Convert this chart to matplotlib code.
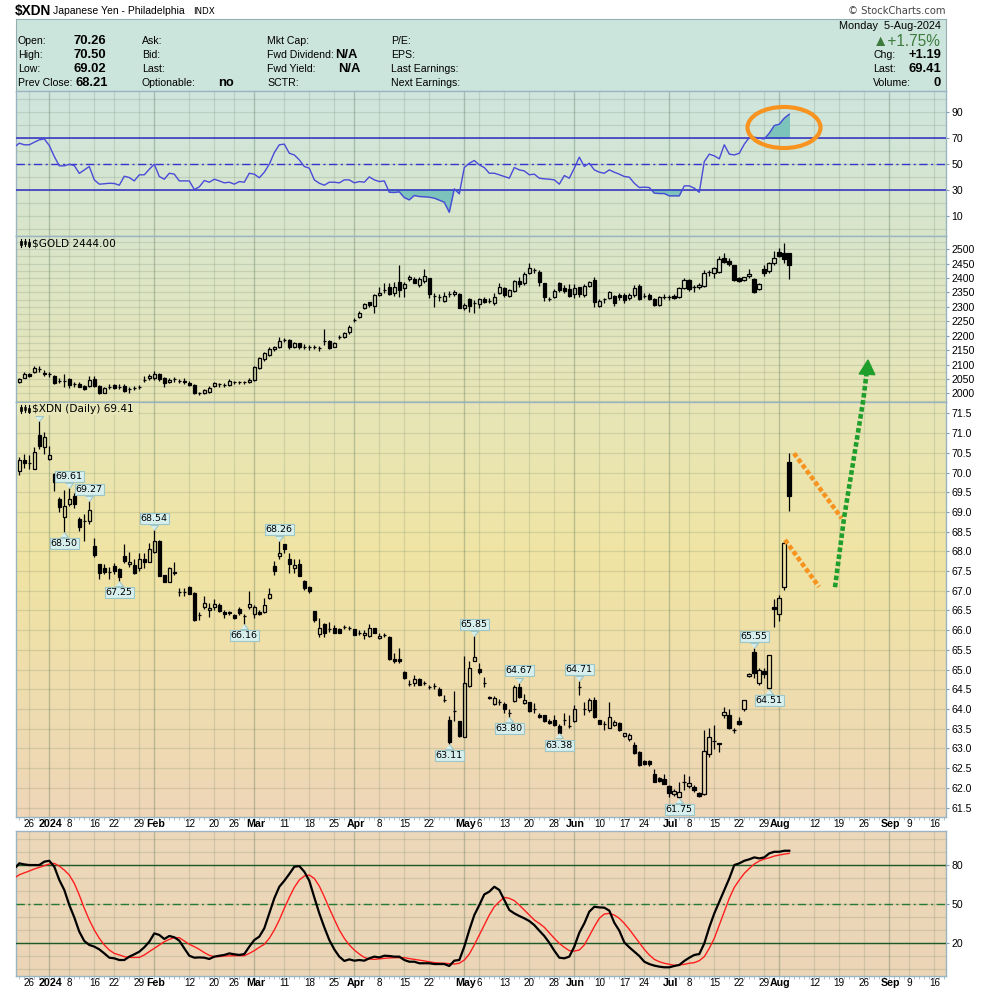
import numpy as np
import pandas as pd
import matplotlib
matplotlib.use('Agg')
import matplotlib.pyplot as plt
from matplotlib.colors import LinearSegmentedColormap
from matplotlib.patches import Ellipse, Polygon, Rectangle
import matplotlib.transforms as mtransforms

plt.rcParams['font.family'] = ['Liberation Sans', 'DejaVu Sans']

# ---------------- data ----------------
start_date = '2023-12-21'
axis_end_date = '2024-09-27'
holidays = ['2023-12-25', '2024-01-01', '2024-01-15', '2024-02-19', '2024-03-29',
            '2024-05-27', '2024-06-19', '2024-07-04', '2024-09-02']

xdn_open = [70.04,70.33,70.25,70.09,70.95,70.66,70.35,69.96,69.33,68.88,
            69.19,69.41,68.82,68.78,68.77,68.14,67.67,67.58,67.48,67.64,
            67.54,67.88,67.67,67.65,67.57,67.80,67.74,67.99,68.26,67.40,
            67.23,67.47,66.97,66.98,67.10,66.95,66.38,66.59,66.51,66.58,
            66.64,66.47,66.47,66.38,66.55,66.36,66.60,66.41,66.47,66.47,
            66.81,67.64,67.89,68.18,67.80,67.57,67.68,67.25,67.09,66.48,
            65.90,66.15,66.02,66.06,66.03,66.09,66.06,66.02,65.94,65.88,
            65.86,66.05,65.79,65.88,65.83,65.28,65.27,64.95,64.63,64.65,
            64.75,64.65,64.56,64.58,64.52,64.24,63.73,63.95,63.69,63.30,
            64.58,65.23,65.01,64.67,64.31,64.12,64.18,64.12,63.89,64.20,
            64.55,64.14,64.17,64.01,63.84,63.84,63.70,63.73,63.57,63.73,
            63.57,63.70,64.56,64.01,63.97,64.24,63.72,63.63,63.53,63.59,
            63.65,63.31,63.23,63.08,62.91,62.69,62.68,62.35,62.24,62.22,
            62.04,61.84,61.76,62.15,62.05,62.03,61.88,61.84,62.87,63.20,
            63.14,63.86,63.86,63.48,63.70,64.01,64.84,65.44,64.65,64.97,
            64.53,66.58,66.40,67.09,70.26]
xdn_high = [70.40,70.46,70.44,70.64,71.32,71.04,70.67,70.00,69.39,69.56,
            69.61,69.47,68.88,68.95,69.27,68.34,67.69,67.69,67.61,67.71,
            67.57,68.19,67.99,67.80,67.95,67.95,68.22,68.54,68.29,67.40,
            67.61,67.72,67.07,67.06,67.12,66.97,66.47,66.87,66.68,66.78,
            66.68,66.51,66.49,66.41,66.60,66.41,66.99,66.64,66.51,66.81,
            67.08,67.75,68.26,68.18,67.97,67.80,67.80,67.27,67.12,66.48,
            66.32,66.19,66.21,66.13,66.06,66.13,66.10,66.04,66.00,66.00,
            66.15,66.06,65.92,65.93,65.85,65.41,65.54,64.97,64.73,64.86,
            64.78,64.72,64.61,64.66,64.55,64.35,63.82,64.45,63.69,65.34,
            65.22,65.85,65.16,64.80,64.34,64.33,64.25,64.18,63.99,64.61,
            64.67,64.37,64.18,64.14,63.89,63.86,63.74,63.84,63.63,63.90,
            63.84,64.10,64.71,64.18,64.28,64.31,63.73,63.70,64.18,63.73,
            63.68,63.40,63.40,63.17,62.94,62.71,62.70,62.47,62.28,62.35,
            62.07,61.98,62.15,62.35,62.30,62.07,61.90,63.48,63.51,63.59,
            63.15,64.04,63.99,63.51,63.80,64.24,64.92,65.55,65.03,65.03,
            65.38,66.80,66.89,68.23,70.50]
xdn_low = [69.94,70.11,70.09,70.08,70.61,70.46,70.33,69.54,69.00,68.50,
           69.15,69.11,68.52,68.27,68.69,67.86,67.30,67.42,67.30,67.42,
           67.25,67.71,67.61,67.42,67.51,67.57,67.72,67.95,67.38,67.23,
           67.23,67.40,66.87,66.87,66.92,66.24,66.26,66.53,66.34,66.51,
           66.47,66.32,66.39,66.28,66.39,66.16,66.55,66.32,66.39,66.44,
           66.78,67.40,67.80,67.95,67.46,67.46,67.38,67.03,66.95,66.21,
           65.82,65.83,65.96,65.92,65.92,66.02,66.00,65.88,65.89,65.77,
           65.83,65.93,65.77,65.82,65.24,65.18,65.18,64.75,64.58,64.58,
           64.61,64.61,64.52,64.52,64.33,64.18,63.11,63.70,63.30,63.28,
           64.55,65.22,64.89,64.56,64.25,64.10,64.10,63.89,63.80,64.17,
           64.29,64.12,63.93,63.89,63.76,63.68,63.62,63.57,63.38,63.59,
           63.53,63.68,64.35,63.84,63.93,63.76,63.62,63.48,63.51,63.57,
           63.45,63.29,63.19,62.87,62.56,62.58,62.56,62.14,62.15,62.09,
           61.77,61.79,61.75,61.94,62.00,61.90,61.77,61.82,62.79,62.98,
           62.92,63.76,63.49,63.38,63.59,63.95,64.80,64.78,64.61,64.78,
           64.51,66.09,66.24,67.02,69.02]
xdn_close = [70.33,70.23,70.25,70.51,70.68,70.89,70.44,69.77,69.13,69.15,
             69.33,69.19,68.63,68.78,69.05,67.92,67.46,67.47,67.48,67.50,
             67.36,67.75,67.72,67.46,67.80,67.72,68.05,68.27,67.38,67.23,
             67.57,67.46,66.97,66.97,66.93,66.26,66.38,66.68,66.57,66.66,
             66.49,66.41,66.43,66.32,66.43,66.36,66.66,66.60,66.41,66.64,
             66.92,67.51,67.97,68.06,67.69,67.65,67.38,67.06,67.00,66.27,
             66.06,65.94,66.02,65.94,65.94,66.09,66.06,65.89,65.94,65.93,
             66.05,65.94,65.86,65.88,65.26,65.22,65.22,64.79,64.63,64.75,
             64.62,64.65,64.56,64.58,64.35,64.24,63.17,63.95,63.32,64.67,
             65.03,65.31,64.95,64.67,64.27,64.28,64.18,63.99,63.89,64.55,
             64.31,64.23,63.95,64.01,63.79,63.70,63.65,63.59,63.40,63.73,
             63.57,63.99,64.56,64.01,64.24,63.79,63.63,63.63,63.79,63.68,
             63.48,63.38,63.34,62.89,62.58,62.60,62.60,62.15,62.18,62.11,
             61.88,61.92,61.90,62.15,62.13,61.94,61.80,62.93,63.30,63.20,
             63.11,63.93,63.51,63.48,63.62,64.24,64.90,64.92,65.00,64.90,
             65.38,66.55,66.81,68.21,69.41]

gold_open = [2038,2055,2067,2075,2083,2072,2067,2061,2044,2044,
             2050,2031,2031,2025,2026,2050,2025,2002,2023,2029,
             2023,2026,2014,2020,2023,2046,2052,2054,2066,2054,
             2038,2050,2044,2044,2037,2029,2000,2000,2006,2025,
             2031,2029,2029,2038,2038,2038,2038,2046,2087,2118,
             2133,2153,2162,2185,2185,2162,2173,2162,2160,2160,
             2156,2183,2182,2162,2194,2194,2212,2254,2266,2297,
             2316,2304,2341,2359,2368,2347,2385,2364,2396,2396,
             2376,2390,2399,2338,2336,2322,2344,2344,2345,2295,
             2326,2312,2310,2327,2322,2312,2349,2364,2338,2356,
             2391,2382,2419,2428,2420,2382,2327,2333,2382,2364,
             2362,2344,2368,2341,2373,2393,2304,2326,2330,2338,
             2341,2341,2330,2341,2372,2338,2341,2327,2307,2335,
             2333,2338,2335,2364,2393,2368,2368,2372,2420,2419,
             2422,2469,2460,2445,2399,2393,2407,2396,2361,2430,
             2425,2451,2489,2488,2486]
gold_high = [2054,2075,2072,2095,2095,2081,2075,2063,2052,2067,
             2052,2040,2040,2029,2061,2061,2029,2023,2032,2031,
             2031,2031,2023,2026,2029,2061,2067,2078,2072,2058,
             2052,2058,2050,2052,2043,2031,2006,2014,2025,2040,
             2037,2035,2050,2044,2044,2044,2054,2095,2127,2145,
             2160,2164,2197,2193,2187,2179,2176,2170,2168,2168,
             2164,2222,2185,2177,2202,2214,2237,2260,2286,2315,
             2318,2345,2370,2382,2382,2388,2445,2388,2411,2405,
             2403,2430,2399,2347,2345,2353,2356,2359,2347,2312,
             2330,2324,2330,2335,2330,2349,2382,2370,2362,2393,
             2403,2422,2454,2434,2428,2384,2335,2361,2388,2376,
             2379,2379,2370,2379,2391,2403,2326,2332,2355,2341,
             2347,2347,2347,2376,2378,2347,2347,2330,2338,2344,
             2341,2344,2370,2399,2396,2376,2382,2428,2428,2440,
             2477,2488,2469,2445,2405,2405,2430,2399,2382,2445,
             2457,2494,2503,2521,2488]
gold_low = [2035,2052,2058,2072,2075,2061,2058,2032,2037,2023,
            2017,2023,2021,2011,2023,2023,1997,2000,2014,2015,
            2014,2006,2000,2011,2015,2040,2048,2048,2044,2023,
            2035,2040,2037,2032,2025,1997,1994,1997,2000,2021,
            2023,2023,2026,2032,2032,2031,2035,2044,2083,2113,
            2129,2148,2158,2179,2153,2156,2153,2154,2151,2153,
            2148,2168,2153,2160,2187,2191,2206,2246,2260,2292,
            2301,2280,2338,2347,2341,2338,2336,2336,2391,2382,
            2370,2384,2332,2301,2322,2318,2336,2338,2295,2289,
            2283,2280,2295,2312,2315,2307,2345,2335,2335,2353,
            2370,2376,2414,2417,2373,2322,2322,2330,2353,2347,
            2335,2330,2335,2335,2368,2298,2301,2312,2326,2304,
            2324,2315,2324,2335,2324,2330,2324,2303,2303,2327,
            2324,2327,2330,2361,2356,2353,2361,2368,2408,2399,
            2419,2451,2442,2391,2388,2391,2399,2347,2359,2407,
            2419,2445,2472,2451,2397]
gold_close = [2050,2067,2061,2087,2083,2066,2067,2037,2044,2044,
              2029,2031,2023,2014,2046,2025,2000,2017,2023,2017,
              2023,2009,2014,2020,2023,2046,2061,2066,2050,2037,
              2046,2050,2044,2038,2029,2002,2000,2011,2020,2035,
              2031,2029,2044,2038,2038,2038,2048,2090,2121,2139,
              2153,2162,2182,2185,2162,2176,2162,2162,2160,2160,
              2156,2183,2156,2173,2194,2208,2231,2254,2278,2310,
              2307,2341,2349,2359,2344,2368,2359,2379,2403,2384,
              2396,2408,2344,2338,2336,2338,2344,2353,2297,2307,
              2303,2312,2326,2318,2322,2335,2370,2341,2359,2391,
              2379,2414,2434,2428,2388,2333,2327,2355,2359,2356,
              2339,2364,2344,2373,2385,2318,2322,2326,2351,2312,
              2335,2324,2341,2364,2326,2338,2326,2307,2333,2335,
              2333,2330,2364,2393,2362,2368,2376,2419,2420,2434,
              2465,2455,2449,2393,2391,2403,2414,2351,2378,2419,
              2451,2469,2477,2465,2444]

rsi_x = [-0.6] + list(range(155))
rsi_val = [64.4, 66.2,65,65,67,68.8,69.5,64.4,56,48.8,48.8,
           50,49,43,45.7,48.3,38,34.7,35,35.4,35.2,
           33.9,40.8,39.8,37.2,41.9,41.9,46.2,50,40.6,38.5,
           43.1,42.4,37.2,37.2,37.2,30.6,32.6,37.5,36.2,38.5,
           37.2,35.7,36.2,34.7,36.7,36.2,43.1,42.4,39.6,43.9,
           50,59,65,65.5,58.5,57.2,53.4,48.3,47,38,
           35.4,33.9,36.2,36.2,35.7,38,38,35.7,36.7,36.2,
           40.3,38,36.7,37.2,28.5,28.3,28.8,24.4,22.6,26,
           25.2,25,24.7,23.9,22.4,20.8,13.1,31.1,27.3,47.5,
           50.8,52.9,49.5,47.5,43.1,43.1,41.9,40.6,39.3,47.5,
           45.7,44.9,41.9,42.4,39.3,38.8,38.5,38,34.7,41.3,
           39.3,47,55.5,48.3,50.8,45.7,43.9,43.1,45.7,43.9,
           42.4,40.6,40.1,35.4,32.1,32.4,32.1,27.8,27.5,27.5,
           25.7,25.7,25.7,33.4,33.4,31.6,28.5,52.1,57.8,56.5,
           54.2,65,57.8,57.2,58.5,65.5,70.6,70.8,70.1,69.5,
           73.9,79.8,80.8,85.5,88.5]

stoch_x = [-0.6] + list(range(155))
stoch_k = [78.7, 81.3,80.5,80,80,80,82.6,83.3,78.7,68.5,60.8,
           49.2,39.7,28.7,21.5,18.5,17.2,15.1,12,8.7,8.2,
           6.9,6.9,9.5,11.3,13.3,16.7,21,27.4,26.2,23.1,
           25.4,24.4,21.8,15.9,10.2,8.7,8.9,8.7,7.7,9.5,
           10.2,10.8,12,11.3,10.8,11.5,17.2,22.3,24.9,31.3,
           42.8,54.4,63.3,67.9,73.1,78.7,79.2,74.9,67.9,55.1,
           42.8,32.1,22.3,15.1,9.5,6.2,7.4,6.4,6.9,6.4,
           8.2,9.5,8.9,10.2,10,9.5,9.5,6.9,5.6,5.6,
           4.4,4.4,4.4,3.8,3.8,3.8,2.3,6.4,6.9,17.2,
           30,41.5,49.2,57.4,59.5,63.3,60.8,53.1,45.4,42.8,
           40.8,39,36.9,33.8,29.5,25.4,20.2,14.1,8.7,8.2,
           9.5,17.2,27.9,35.1,44.1,47.9,47.4,47.2,44.9,35.6,
           29.5,20.5,16.7,13.3,10,5.6,3.8,2.6,1.8,1.3,
           1.3,2.3,3.1,6.2,8.7,10.8,11.5,19.7,32.1,42.8,
           51.8,60.8,69.7,80,81.3,83.3,84.4,85.9,85.1,85.9,
           89,90.2,90.2,91,91]
stoch_d = [71, 72.5,74,75.4,77,78.2,79.5,80.8,81.3,79.2,76.1,
           72.3,65.9,56.9,46.7,37.7,30,23.6,18.5,14.6,12,
           10.8,9.5,8.9,8.9,8.9,10.8,13.3,15.9,18.5,21,
           22.8,24.1,24.1,21.5,19,17.2,15.1,12.6,10.5,9.5,
           9.5,10,10.1,10.2,10.2,10.2,12,14.1,16.7,19,
           23.6,30,37.7,46.7,55.1,62.8,68.5,71.5,72.3,69.7,
           63.8,55.6,46.7,38.2,30,23.6,18.5,14.6,11.5,8.9,
           7.7,7.4,7.8,8.2,8.5,8.7,8.7,8.7,8,7.4,
           6.8,6.2,5.5,4.9,4.6,4.4,4.1,3.8,4.4,6.9,
           11.5,18.5,26.2,33.8,41.5,47.9,51.8,55.1,54.4,52.6,
           49.2,45.4,41.5,37.7,35.1,32.1,27.9,23.6,19.7,16.7,
           14.1,13.8,14.6,18.5,25.4,32.6,39,42.3,42.8,41.5,
           39,35.1,30.5,25.4,20.2,15.1,10.8,7.4,5.6,4.4,
           3.6,2.8,3.1,3.6,4.4,4.9,6.4,9.5,15.9,23.6,
           33.8,44.1,54.4,62.8,68.5,73.6,77.4,80.8,83.1,84.6,
           85.6,86.9,87.7,88.4,89]

label_idx = [10, 14, 9, 20, 27, 52, 45, 91, 86, 100, 98, 112, 108, 132, 147, 150]
label_above = [True, True, False, False, True, True, False, True, False,
               True, False, True, False, False, True, False]
hidden_label_idx = 4

xdn_ticks = [61.5 + 0.5 * k for k in range(21)]
gold_ticks = [2000 + 50 * k for k in range(11)]
rsi_ticks = [10, 30, 50, 70, 90]
stoch_ticks = [20, 50, 80]

# ---------------- layout helpers ----------------
W, H = 990, 992
fig = plt.figure(figsize=(9.9, 9.92), dpi=100)
fig.patch.set_facecolor('white')

def px_axes(x0, y0, x1, y1, **kw):
    return fig.add_axes([x0 / W, 1 - y1 / H, (x1 - x0) / W, (y1 - y0) / H], **kw)

def ftext(x, y, s, **kw):
    kw.setdefault('va', 'center')
    fig.text(x / W, 1 - y / H, s, **kw)

days = pd.bdate_range(start_date, axis_end_date, freq='C', holidays=holidays)
n_days = len(days)
XMIN, XMAX = -0.66, 185.34
X0, X1 = 16, 946
week_key = days - pd.to_timedelta(days.weekday, unit='D')
month_start = [k for k in range(1, n_days) if days[k].month != days[k - 1].month and k <= XMAX]
week_start = [k for k in range(1, n_days) if week_key[k] != week_key[k - 1] and k <= XMAX]
week_lines = [k for k in week_start if k not in month_start and
              not any(abs(m - k) < 3 for m in month_start)]

def date_labels(ax, yax):
    tr = mtransforms.blended_transform_factory(ax.transData, ax.transAxes)
    tr_month = tr + mtransforms.ScaledTranslation(1.2 / 100, 0, fig.dpi_scale_trans)
    for k in week_lines:
        ax.text(k, yax, str(days[k].day), transform=tr, ha='center', va='center',
                fontsize=7.1, clip_on=False)
    for k in month_start:
        lab = str(days[k].year) if days[k].month == 1 else days[k].strftime('%b')
        ax.text(k, yax, lab, transform=tr_month, ha='center', va='center',
                fontsize=7.7, fontweight='bold', clip_on=False)

GRID_C = (0.30, 0.40, 0.30, 0.16)
MONTH_C = (0.30, 0.42, 0.32, 0.32)

def panel(y0, y1, ylim, colors, hgrid, ticks, fmt):
    ax = px_axes(X0, y0, X1, y1)
    ax.patch.set_alpha(0)
    cmap = LinearSegmentedColormap.from_list('bg', colors)
    ax.imshow(np.linspace(0, 1, 256).reshape(-1, 1), extent=[0, 1, 0, 1],
              transform=ax.transAxes, cmap=cmap, aspect='auto', zorder=0, origin='upper')
    ax.vlines(week_lines, ylim[0], ylim[1], color=GRID_C, lw=0.9, zorder=1)
    ax.vlines(month_start, ylim[0], ylim[1], color=MONTH_C, lw=1.0, zorder=1)
    ax.hlines(hgrid, XMIN, XMAX, color=GRID_C, lw=0.9, zorder=1)
    ax.set_xlim(XMIN, XMAX)
    ax.set_ylim(*ylim)
    ax.yaxis.tick_right()
    ax.set_yticks(ticks)
    ax.set_yticklabels([fmt % t for t in ticks])
    ax.set_xticks([])
    ax.tick_params(axis='y', direction='out', length=2.5, width=0.8, color='#7f9db0',
                   labelsize=7.6, pad=1.5)
    for s in ax.spines.values():
        s.set_color('#9bb4c2')
        s.set_linewidth(1.0)
    return ax

def draw_candles(ax, o, h, l, c, width=0.72):
    o, h, l, c = map(np.asarray, (o, h, l, c))
    x = np.arange(len(o))
    top = np.maximum(o, c)
    bot = np.minimum(o, c)
    ax.vlines(x, top, h, color='black', lw=0.9, zorder=3)
    ax.vlines(x, l, bot, color='black', lw=0.9, zorder=3)
    up = c >= o
    ax.bar(x[up], (c - o)[up], width, bottom=o[up], facecolor='none',
           edgecolor='black', linewidth=0.9, zorder=4)
    ax.bar(x[~up], (o - c)[~up], width, bottom=c[~up], facecolor='black',
           edgecolor='black', linewidth=0.9, zorder=4)

# ---------------- header ----------------
ftext(15, 11, '$XDN', fontsize=9.8, fontweight='bold')
ftext(53, 11, 'Japanese Yen - Philadelphia', fontsize=7.5)
ftext(193, 11.5, 'INDX', fontsize=6.3, family='DejaVu Sans')
ftext(946, 11.5, '\u00a9 StockCharts.com', fontsize=7.2, color='#444444', ha='right',
      family='DejaVu Sans')

hdr = px_axes(16, 19, 946, 91)
hdr.set_facecolor('#cce5dc')
hdr.set_xticks([]); hdr.set_yticks([])
for s in hdr.spines.values():
    s.set_color('#93adb0')

rows = [41, 55, 69, 83]
lab_kw = dict(fontsize=7.6)
val_kw = dict(fontsize=9.4, fontweight='bold')
ftext(18, rows[0], 'Open:', **lab_kw); ftext(73, rows[0], '70.26', **val_kw)
ftext(18, rows[1], 'High:', **lab_kw); ftext(73, rows[1], '70.50', **val_kw)
ftext(18, rows[2], 'Low:', **lab_kw); ftext(73, rows[2], '69.02', **val_kw)
ftext(18, rows[3], 'Prev Close:', **lab_kw); ftext(76, rows[3], '68.21', **val_kw)
ftext(142, rows[0], 'Ask:', **lab_kw)
ftext(142, rows[1], 'Bid:', **lab_kw)
ftext(142, rows[2], 'Last:', **lab_kw)
ftext(142, rows[3], 'Optionable:', **lab_kw); ftext(218, rows[3], 'no', **val_kw)
ftext(267, rows[0], 'Mkt Cap:', **lab_kw)
ftext(267, rows[1], 'Fwd Dividend:', **lab_kw); ftext(335, rows[1], 'N/A', **val_kw)
ftext(267, rows[2], 'Fwd Yield:', **lab_kw); ftext(338, rows[2], 'N/A', **val_kw)
ftext(267, rows[3], 'SCTR:', **lab_kw)
ftext(391, rows[0], 'P/E:', **lab_kw)
ftext(391, rows[1], 'EPS:', **lab_kw)
ftext(391, rows[2], 'Last Earnings:', **lab_kw)
ftext(391, rows[3], 'Next Earnings:', **lab_kw)
ftext(941, 26, 'Monday  5-Aug-2024', fontsize=7.8, ha='right')
ftext(941, 41.5, '\u25b2+1.75%', fontsize=11.2, ha='right', color='#3d7b3d')
ftext(873, rows[1], 'Chg:', **lab_kw); ftext(941, rows[1], '+1.19', ha='right', **val_kw)
ftext(873, rows[2], 'Last:', **lab_kw); ftext(941, rows[2], '69.41', ha='right', **val_kw)
ftext(873, rows[3], 'Volume:', **lab_kw); ftext(941, rows[3], '0', ha='right', **val_kw)

# ---------------- RSI panel ----------------
ax_rsi = panel(91, 236, (-5.2, 106.4), ['#cfe6de', '#d9e5c9'], list(range(0, 101, 10)),
               rsi_ticks, '%d')
rv = np.array(rsi_val)
ax_rsi.fill_between(rsi_x, rv, 70, where=rv >= 70, interpolate=True, color='#7cc3bb', zorder=2)
ax_rsi.fill_between(rsi_x, rv, 30, where=rv <= 30, interpolate=True, color='#7cc3bb', zorder=2)
ax_rsi.axhline(70, color='#2c2cc4', lw=1.1, zorder=3)
ax_rsi.axhline(30, color='#2c2cc4', lw=1.1, zorder=3)
ax_rsi.axhline(50, color='#3535cc', lw=1.0, ls=(0, (6, 2.5, 1.5, 2.5)), zorder=3)
ax_rsi.plot(rsi_x, rv, color='#4a4ad8', lw=1.0, zorder=4)
ax_rsi.add_patch(Ellipse((152.94, 78.3), 14.6, 31.6, fill=False, edgecolor='#f7931e',
                         lw=3.0, zorder=6, clip_on=False))

# ---------------- Gold panel ----------------
ax_gold = panel(236, 402, (1970, 2546), ['#d9e6cb', '#e8e5b6'],
                list(range(1975, 2550, 25)), gold_ticks, '%d')
draw_candles(ax_gold, gold_open, gold_high, gold_low, gold_close)
ax_gold.text(16 / 930, 1 - 7.3 / 166, '$GOLD %.2f' % gold_close[-1], transform=ax_gold.transAxes,
             fontsize=7.6, family='DejaVu Sans', va='center', ha='left', zorder=8)

# ---------------- XDN panel ----------------
ax_main = panel(402, 817, (61.26, 71.79), [(0, '#e7e6b8'), (0.38, '#f0e4a3'), (1, '#eed6b8')],
                xdn_ticks, xdn_ticks, '%.1f')
draw_candles(ax_main, xdn_open, xdn_high, xdn_low, xdn_close)
ax_main.set_xticks(np.arange(0, 186), minor=True)
ax_main.tick_params(axis='x', which='minor', direction='out', length=2, width=0.6,
                    color='#9bb4c2', bottom=True)

tri_down = [(-0.8, 1), (0.8, 1), (0, 0)]
tri_up = [(-0.8, -1), (0.8, -1), (0, 0)]
LAB_FC, LAB_EC = '#d7efed', '#9fc6c6'
for k, above in zip(label_idx, label_above):
    v = xdn_high[k] if above else xdn_low[k]
    dy = 5.2 if above else -5.2
    ax_main.annotate('%.2f' % v, xy=(k, v), xytext=(0, dy), textcoords='offset points',
                     ha='center', va='bottom' if above else 'top', fontsize=6.8,
                     family='DejaVu Sans', zorder=7,
                     bbox=dict(boxstyle='square,pad=0.1', fc=LAB_FC, ec=LAB_EC, lw=0.8))
    ax_main.plot([k], [v], marker=tri_down if above else tri_up, ms=7.2, mfc=LAB_FC,
                 mec=LAB_EC, mew=0.8, zorder=7, clip_on=False)

# high label mostly hidden behind the legend: only its lower edge and pointer show
hv = xdn_high[hidden_label_idx]
ax_main.add_patch(Rectangle((hidden_label_idx - 2.6, hv + 0.19), 5.2, 0.26, fc=LAB_FC,
                            ec=LAB_EC, lw=0.8, zorder=7))
ax_main.plot([hidden_label_idx], [hv], marker=tri_down, ms=7.2, mfc=LAB_FC,
             mec=LAB_EC, mew=0.8, zorder=7)

# legend block (covers the high label under it)
ax_main.add_patch(Rectangle((1 / 930, 1 - 12.5 / 415), 121 / 930, 11.5 / 415,
                            transform=ax_main.transAxes, fc='#e7e6b8', ec='none', zorder=8))
ax_main.text(16 / 930, 1 - 7.3 / 415, '$XDN (Daily) %.2f' % xdn_close[-1],
             transform=ax_main.transAxes, fontsize=7.6, family='DejaVu Sans',
             va='center', ha='left', zorder=9)

# hand-drawn annotations
dot = (0, (1, 0.55))
ax_main.plot([154.94, 164.48], [70.49, 68.84], color='#f7931e', lw=3.3, ls=dot,
             dash_capstyle='butt', zorder=9, clip_on=False)
ax_main.plot([153.14, 159.94], [68.29, 67.10], color='#f7931e', lw=3.3, ls=dot,
             dash_capstyle='butt', zorder=9, clip_on=False)
ax_main.plot([163.14, 164.94, 168.8, 169.45], [67.09, 68.84, 71.84, 72.52], color='#1f9e2b',
             lw=3.3, ls=dot, dash_capstyle='butt', zorder=9, clip_on=False)
ax_main.add_patch(Polygon([(169.74, 72.86), (167.94, 72.50), (171.14, 72.48)], closed=True,
                          fc='#1f9e2b', ec='#1f9e2b', lw=0.8, zorder=9, clip_on=False))

date_labels(ax_main, -7.2 / 415)

# ---------------- Stochastics panel ----------------
ax_st = panel(831, 976, (-5.4, 106.2), ['#edd8ba', '#ebd5b6'], list(range(0, 101, 10)),
              stoch_ticks, '%d')
ax_st.axhline(80, color='#1d5a27', lw=1.0, zorder=3)
ax_st.axhline(20, color='#1d5a27', lw=1.0, zorder=3)
ax_st.axhline(50, color='#267a33', lw=1.0, ls=(0, (6, 2.5, 1.5, 2.5)), zorder=3)
ax_st.plot(stoch_x, stoch_d, color='#ff1e1e', lw=1.0, zorder=4)
ax_st.plot(stoch_x, stoch_k, color='black', lw=1.6, zorder=5)
ax_st.set_xticks(np.arange(0, 186), minor=True)
ax_st.tick_params(axis='x', which='minor', direction='out', length=2, width=0.6,
                  color='#9bb4c2', bottom=True)
date_labels(ax_st, -7.4 / 145)

# ---------------- legend icons ----------------
ov = fig.add_axes([0, 0, 1, 1], zorder=20)
ov.set_xlim(0, W); ov.set_ylim(H, 0); ov.axis('off'); ov.patch.set_alpha(0)
for yc in (243.3, 409.3):
    ov.plot([20.5, 20.5], [yc - 4, yc + 4], color='black', lw=0.8)
    ov.add_patch(Rectangle((19.5, yc - 2), 2, 4, fc='black', ec='black', lw=0.5))
    ov.plot([24.5, 24.5], [yc - 4.5, yc + 3], color='black', lw=0.8)
    ov.add_patch(Rectangle((23.5, yc - 2.5), 2, 3.5, fc='none', ec='black', lw=0.5))
    ov.plot([28.5, 28.5], [yc - 4, yc + 4], color='black', lw=0.8)
    ov.add_patch(Rectangle((27.5, yc - 1.5), 2, 4, fc='black', ec='black', lw=0.5))

fig.savefig('out.png', dpi=100)
